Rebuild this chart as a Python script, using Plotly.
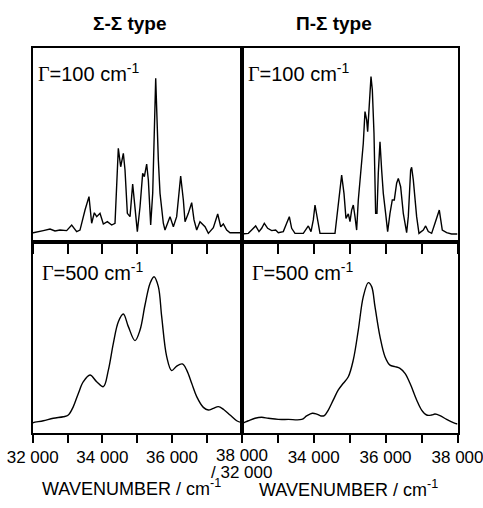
import plotly.graph_objects as go

# ---- data (wavenumber / cm-1, relative intensity) ----
ss100_wn = [32000, 32018, 32305, 32497, 32640, 32784, 32975, 33119, 33262, 33358, 33502, 33616,
            33693, 33769, 33837, 33932, 34028, 34143, 34267, 34363, 34458, 34526, 34602, 34650,
            34717, 34794, 34870, 34937, 35004, 35081, 35157, 35205, 35272, 35320, 35387, 35445,
            35531, 35607, 35655, 35750, 35798, 35942, 36038, 36133, 36248, 36325, 36373, 36468,
            36564, 36631, 36708, 36803, 36947, 37043, 37186, 37311, 37397, 37473, 37569, 37665,
            37952, 38000]
ss100_I = [4.6, 4.6, 5.7, 6.5, 5.5, 6.0, 5.7, 8.6, 5.2, 6.0, 16.3, 23.2,
           9.5, 14.9, 12.9, 14.6, 9.1, 10.3, 8.6, 9.5, 48.1, 38.6, 45.5, 36.9,
           14.6, 12.9, 29.7, 18.0, 5.2, 18.0, 35.2, 33.5, 40.0, 31.8, 8.6, 24.9,
           84.1, 42.1, 24.9, 9.5, 6.0, 12.9, 7.7, 12.9, 33.8, 21.5, 10.3, 14.6,
           20.1, 11.2, 6.0, 10.3, 7.7, 4.3, 7.2, 14.3, 7.7, 9.1, 6.0, 4.6,
           4.6, 4.6]

ps100_wn = [32000, 32018, 32184, 32277, 32388, 32481, 32555, 32629, 32722, 32833, 32944, 33018,
            33157, 33250, 33324, 33389, 33482, 33713, 33806, 33852, 33927, 33991, 34038, 34102,
            34177, 34594, 34686, 34779, 34844, 34899, 34964, 35011, 35057, 35103, 35150, 35196,
            35242, 35317, 35381, 35428, 35474, 35502, 35539, 35595, 35632, 35678, 35724, 35761,
            35798, 35845, 35891, 35937, 36002, 36058, 36123, 36187, 36243, 36308, 36354, 36419,
            36493, 36586, 36632, 36697, 36725, 36771, 36864, 36929, 37049, 37114, 37188, 37281,
            37374, 37494, 37577, 37698, 37837, 37976, 38000]
ps100_I = [4.0, 4.0, 4.3, 6.0, 8.1, 5.2, 6.9, 9.5, 6.9, 5.7, 6.0, 4.65,
           5.2, 9.5, 12.9, 6.9, 4.3, 4.3, 6.9, 8.1, 5.2, 11.2, 18.9, 11.2,
           4.3, 4.3, 18.0, 34.3, 24.9, 12.0, 14.3, 10.3, 16.3, 18.9, 12.9, 6.0,
           21.5, 38.6, 50.7, 67.0, 62.7, 56.7, 67.8, 85.0, 78.1, 55.8, 14.6, 14.6,
           35.2, 51.5, 36.9, 24.9, 14.6, 5.2, 14.6, 21.5, 21.5, 30.1, 32.6, 28.3,
           14.6, 4.65, 12.9, 36.9, 38.3, 31.8, 12.9, 4.3, 6.0, 8.1, 5.2, 4.3,
           9.5, 16.3, 6.0, 4.65, 4.0, 4.0, 4.0]

ss500_wn = [32000, 32018, 32305, 32592, 32879, 33023, 33166, 33310, 33454, 33645, 33837, 34028,
            34172, 34315, 34459, 34602, 34746, 34937, 35081, 35224, 35368, 35483, 35607, 35703,
            35847, 35990, 36134, 36296, 36421, 36564, 36708, 36899, 37043, 37186, 37330, 37473,
            37665, 37856, 38000]
ss500_I = [5.2, 5.4, 6.4, 7.7, 8.5, 9.4, 13.8, 20.7, 26.8, 30.3, 26.8, 24.2,
           32.9, 46.9, 58.2, 62.2, 55.6, 48.3, 53.8, 66.9, 78.2, 81.7, 76.5, 60.8,
           39.9, 32.6, 35.0, 36.1, 32.9, 26.0, 19.0, 13.4, 12.0, 12.9, 13.8, 12.4,
           9.4, 6.4, 5.4]

ps500_wn = [32000, 32018, 32184, 32370, 32555, 32740, 33018, 33296, 33667, 33806, 33964, 34084,
            34205, 34297, 34408, 34547, 34686, 34825, 34964, 35103, 35242, 35381, 35520, 35613,
            35706, 35845, 35984, 36123, 36262, 36401, 36540, 36679, 36864, 37003, 37142, 37281,
            37374, 37513, 37698, 37883, 38000]
ps500_I = [5.1, 5.1, 6.4, 7.7, 8.2, 7.7, 7.1, 7.1, 7.1, 8.9, 10.3, 9.9,
           8.9, 9.1, 12.0, 17.3, 22.5, 26.0, 29.4, 38.2, 53.8, 71.3, 78.6, 76.5,
           66.0, 50.4, 39.9, 35.5, 34.7, 33.8, 31.2, 26.0, 17.3, 12.0, 9.4, 9.4,
           9.9, 9.1, 7.1, 5.4, 4.7]

panel_titles = ["Σ-Σ type", "Π-Σ type"]
gamma_labels = ["100", "500"]
tick_vals = [32000, 33000, 34000, 35000, 36000, 37000, 38000]
left_tick_text = ["32 000", "", "34 000", "", "36 000", "", ""]
right_tick_text = ["", "", "34 000", "", "36 000", "", "38 000"]
mid_tick_text = ["38 000", "/ 32 000"]
axis_title = "WAVENUMBER / cm<sup>-1</sup>"

# full window figure; the page's default body margin is removed after plotting
OFF = 0
FW, FH = 483, 508
X0, XM, X1 = 32.7, 241.7, 457.5      # pixel positions of frame verticals
Y0, YM, Y1 = 47.5, 241.7, 433.0      # pixel positions of frame horizontals

def px(x):
    return (x - OFF) / FW

def py(y):
    return 1 - (y - OFF) / FH

FONT = "Liberation Sans, Arial, sans-serif"
line = dict(color="black", width=1.4)

fig = go.Figure()
fig.add_trace(go.Scatter(x=ss100_wn, y=ss100_I, mode="lines", line=line, xaxis="x", yaxis="y"))
fig.add_trace(go.Scatter(x=ps100_wn, y=ps100_I, mode="lines", line=line, xaxis="x2", yaxis="y2"))
fig.add_trace(go.Scatter(x=ss500_wn, y=ss500_I, mode="lines", line_shape="spline",
                         line=line, xaxis="x3", yaxis="y3"))
fig.add_trace(go.Scatter(x=ps500_wn, y=ps500_I, mode="lines", line_shape="spline",
                         line=line, xaxis="x4", yaxis="y4"))

common_x = dict(range=[32000, 38000], showline=True, mirror=True, linewidth=2,
                linecolor="black", showgrid=False, zeroline=False, ticks="outside",
                tickcolor="black", tickwidth=1.5, tickvals=tick_vals, automargin=False,
                ticklabeloverflow="allow")
common_y = dict(range=[0, 100], showline=True, mirror=True, linewidth=2,
                linecolor="black", showgrid=False, zeroline=False, showticklabels=False,
                ticks="", automargin=False)

tickfont = dict(family=FONT, size=17, color="black")
fig.update_layout(
    template="none",
    width=FW, height=FH, margin=dict(l=0, r=0, t=0, b=0, autoexpand=False),
    paper_bgcolor="white", plot_bgcolor="white", showlegend=False,
    xaxis=dict(common_x, domain=[px(X0), px(XM)], anchor="y", ticklen=10, showticklabels=False),
    xaxis2=dict(common_x, domain=[px(XM), px(X1)], anchor="y2", ticklen=10, showticklabels=False),
    xaxis3=dict(common_x, domain=[px(X0), px(XM)], anchor="y3", ticklen=8,
                ticktext=left_tick_text, tickfont=tickfont),
    xaxis4=dict(common_x, domain=[px(XM), px(X1)], anchor="y4", ticklen=8,
                ticktext=right_tick_text, tickfont=tickfont),
    yaxis=dict(common_y, domain=[py(YM), py(Y0)], anchor="x"),
    yaxis2=dict(common_y, domain=[py(YM), py(Y0)], anchor="x2"),
    yaxis3=dict(common_y, domain=[py(Y1), py(YM)], anchor="x3"),
    yaxis4=dict(common_y, domain=[py(Y1), py(YM)], anchor="x4"),
)

def note(x, y, text, size, xanchor="center"):
    return dict(x=px(x), y=py(y), xref="paper", yref="paper", showarrow=False,
                xanchor=xanchor, yanchor="middle", text=text,
                font=dict(family=FONT, size=size, color="black"))

ann = [note(129, 23, "<b>" + panel_titles[0] + "</b>", 19),
       note(334, 23, "<b>" + panel_titles[1] + "</b>", 19)]

gam = '<span style="font-family:Liberation Serif">Γ</span>=%s cm<sup>-1</sup>'
for (xx, yy, g) in [(36, 73, 0), (246, 73, 0), (40, 271, 1), (250, 271, 1)]:
    ann.append(note(xx, yy, gam % gamma_labels[g], 20, xanchor="left"))

ann.append(note(XM, 455, mid_tick_text[0], 17))
ann.append(note(XM, 472, mid_tick_text[1], 17))
ann.append(note(131, 487, axis_title, 18))
ann.append(note(348, 488, axis_title, 18))
fig.update_layout(annotations=ann)

fig.write_html("out.html", config={"displayModeBar": False},
               post_script="document.body.style.margin='0';document.body.style.overflow='hidden';")
